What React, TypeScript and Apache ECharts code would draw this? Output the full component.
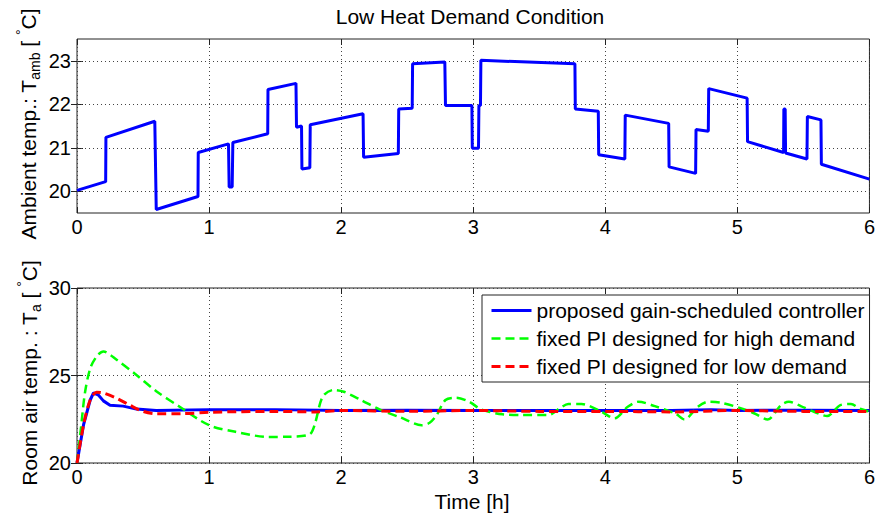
import React, { useEffect, useRef } from "react";
import * as echarts from "echarts";

const FONT = "'Liberation Sans', Arial, Helvetica, sans-serif";

const titleText = "Low Heat Demand Condition";
const xAxisTitle = "Time [h]";
const xTicks = [0, 1, 2, 3, 4, 5, 6];
const ambientYTicks = [20, 21, 22, 23];
const roomYTicks = [20, 25, 30];

const seriesNames = [
  "proposed gain-scheduled controller",
  "fixed PI designed for high demand",
  "fixed PI designed for low demand",
];

// Ambient temperature (top panel)
const ambientTime = [
  0, 0.217, 0.219, 0.589, 0.6, 0.916, 0.918, 1.147, 1.152, 1.175, 1.18, 1.444, 1.446,
  1.658, 1.662, 1.7, 1.703, 1.763, 1.766, 2.166, 2.17, 2.433, 2.436, 2.538, 2.541,
  2.785, 2.79, 2.99, 2.993, 3.04, 3.043, 3.055, 3.058, 3.77, 3.773, 3.947, 3.95,
  4.148, 4.151, 4.48, 4.483, 4.684, 4.687, 4.78, 4.783, 5.074, 5.077, 5.35, 5.352,
  5.362, 5.365, 5.527, 5.53, 5.633, 5.636, 6.0,
];
const ambientTemp = [
  20.02, 20.22, 21.24, 21.61, 19.58, 19.88, 20.89, 21.09, 20.1, 20.1, 21.12, 21.32, 22.34,
  22.48, 21.47, 21.5, 20.51, 20.54, 21.53, 21.78, 20.78, 20.87, 21.89, 21.91, 22.93,
  22.97, 21.97, 21.97, 20.99, 20.99, 21.97, 21.97, 23.01, 22.93, 21.89, 21.84, 20.84,
  20.74, 21.75, 21.56, 20.56, 20.41, 21.42, 21.38, 22.36, 22.14, 21.14, 20.89, 21.89,
  21.89, 20.88, 20.74, 21.72, 21.64, 20.62, 20.28,
];

// Room air temperature (bottom panel)
const gsTime = [0, 0.05, 0.1, 0.125, 0.16, 0.2, 0.25, 0.35, 0.45, 0.6, 1.0, 1.5, 2.0, 2.5, 3.0, 3.5, 4.0, 4.5, 4.8, 5.0, 5.5, 6.0];
const gsTemp = [20.0, 22.2, 23.6, 24.0, 23.9, 23.55, 23.3, 23.25, 23.08, 23.0, 23.05, 23.05, 23.0, 23.02, 23.0, 23.0, 23.0, 23.0, 23.05, 23.0, 23.02, 23.0];

const highTime = [
  0, 0.03, 0.06, 0.1, 0.15, 0.2, 0.3, 0.45, 0.6, 0.78, 1.0, 1.2, 1.45, 1.6, 1.76, 1.8,
  1.86, 1.94, 2.02, 2.15, 2.29, 2.45, 2.61, 2.67, 2.72, 2.79, 2.87, 2.97, 3.05, 3.12,
  3.22, 3.37, 3.57, 3.65, 3.72, 3.82, 3.97, 4.07, 4.17, 4.25, 4.375, 4.53, 4.6, 4.7,
  4.78, 4.88, 5.03, 5.13, 5.23, 5.33, 5.39, 5.48, 5.58, 5.68, 5.78, 5.86, 5.93, 6.0,
];
const highTemp = [
  20.0, 22.0, 24.0, 25.4, 26.1, 26.37, 25.9, 25.03, 24.1, 23.2, 22.16, 21.78, 21.49, 21.5, 21.63, 22.2,
  23.79, 24.17, 24.07, 23.6, 23.06, 22.6, 22.16, 22.3, 22.7, 23.6, 23.73, 23.5, 23.1, 22.93,
  22.78, 22.74, 22.74, 23.1, 23.37, 23.37, 22.93, 22.55, 23.21, 23.5, 23.25, 22.83, 22.49, 23.21,
  23.5, 23.44, 23.12, 22.83, 22.49, 23.31, 23.5, 23.25, 22.93, 22.68, 23.31, 23.37, 23.1, 22.93,
];

const lowTime = [0, 0.05, 0.1, 0.15, 0.2, 0.3, 0.4, 0.5, 0.6, 0.8, 1.0, 1.5, 1.8, 2.0, 2.5, 3.0, 3.5, 4.0, 4.5, 5.0, 5.5, 6.0];
const lowTemp = [20.0, 22.2, 23.6, 24.05, 24.0, 23.7, 23.3, 22.95, 22.82, 22.82, 22.9, 22.95, 22.92, 23.0, 22.95, 23.0, 22.95, 22.95, 22.92, 23.0, 22.95, 22.95];

const pairs = (t: number[], v: number[]) => t.map((x, i) => [x, v[i]]);

const AXIS_COLOR = "#222";
const gridLine = { color: "#444", type: [1, 3] as number[], width: 1 };
const tickStyle = { inside: true, length: 6, lineStyle: { color: AXIS_COLOR, width: 1 } };
const labelStyle = { fontSize: 20, color: "#000", fontFamily: FONT };
const hiddenSymbol = { color: "rgba(0,0,0,0)", borderColor: "rgba(0,0,0,0)", borderWidth: 0, opacity: 0 };

function makeX(gridIndex: number, position: "bottom" | "top", labels: boolean, split: boolean) {
  return {
    type: "value",
    gridIndex,
    position,
    min: xTicks[0],
    max: xTicks[xTicks.length - 1],
    interval: 1,
    axisLine: { show: false },
    axisTick: tickStyle,
    axisLabel: labels ? { ...labelStyle, margin: 4 } : { show: false },
    splitLine: { show: split, lineStyle: gridLine },
  };
}

const richLabel = {
  n: { fontSize: 21, lineHeight: 28, fontFamily: FONT, fill: "#000" },
  s: { fontSize: 14, lineHeight: 14, fontFamily: FONT, verticalAlign: "bottom", fill: "#000" },
  p: { fontSize: 14, lineHeight: 14, fontFamily: FONT, verticalAlign: "top", fill: "#000" },
};

export default function App() {
  const ref = useRef<HTMLDivElement>(null);
  useEffect(() => {
    if (!ref.current) return;
    const chart = echarts.init(ref.current, null, { renderer: "svg" });
    const option: any = {
      animation: false,
      backgroundColor: "#fff",
      textStyle: { fontFamily: FONT },
      grid: [
        { left: 77, top: 39, width: 795, height: 174, show: true, borderColor: AXIS_COLOR, borderWidth: 1, backgroundColor: "#fff" },
        { left: 77, top: 288, width: 795, height: 175, show: true, borderColor: AXIS_COLOR, borderWidth: 1, backgroundColor: "#fff" },
      ],
      xAxis: [
        makeX(0, "bottom", true, true),
        makeX(0, "top", false, false),
        makeX(1, "bottom", true, true),
        makeX(1, "top", false, false),
      ],
      yAxis: [
        {
          type: "value", gridIndex: 0, position: "left", min: 19.5, max: 23.5,
          axisLine: { show: false },
          axisTick: { ...tickStyle, customValues: ambientYTicks },
          axisLabel: { ...labelStyle, margin: 6, customValues: ambientYTicks },
          splitLine: { show: false },
        },
        {
          type: "value", gridIndex: 0, position: "right", min: 19.5, max: 23.5,
          axisLine: { show: false },
          axisTick: { ...tickStyle, customValues: ambientYTicks },
          axisLabel: { show: false },
          splitLine: { show: false },
        },
        {
          type: "value", gridIndex: 1, position: "left", min: roomYTicks[0], max: roomYTicks[2], interval: 5,
          axisLine: { show: false },
          axisTick: tickStyle,
          axisLabel: { ...labelStyle, margin: 6 },
          splitLine: { show: true, lineStyle: gridLine },
        },
        {
          type: "value", gridIndex: 1, position: "right", min: roomYTicks[0], max: roomYTicks[2], interval: 5,
          axisLine: { show: false },
          axisTick: tickStyle,
          axisLabel: { show: false },
          splitLine: { show: false },
        },
      ],
      legend: {
        orient: "vertical",
        left: 482,
        top: 295,
        backgroundColor: "#fff",
        borderColor: AXIS_COLOR,
        borderWidth: 1,
        borderRadius: 0,
        padding: [5, 5, 5, 8],
        itemWidth: 40,
        itemHeight: 20,
        itemGap: 7,
        textStyle: { fontSize: 21, color: "#000", fontFamily: FONT },
        data: [
          { name: seriesNames[0], lineStyle: { width: 3 }, itemStyle: hiddenSymbol },
          { name: seriesNames[1], lineStyle: { width: 2.5 }, itemStyle: hiddenSymbol },
          { name: seriesNames[2], lineStyle: { width: 3 }, itemStyle: hiddenSymbol },
        ],
      },
      graphic: [
        {
          type: "text", x: 470, y: 16,
          style: { text: titleText, fontSize: 21, fill: "#000", fontFamily: FONT, align: "center", verticalAlign: "middle" },
        },
        {
          type: "text", x: 472, y: 501,
          style: { text: xAxisTitle, fontSize: 21, fill: "#000", fontFamily: FONT, align: "center", verticalAlign: "middle" },
        },
        {
          type: "text", x: 28, y: 124, rotation: Math.PI / 2,
          style: {
            text: "{n|Ambient temp.: T}{s|amb}{n| [ }{p|°}{n|C]}",
            align: "center", verticalAlign: "middle", fill: "#000",
            rich: richLabel,
          },
        },
        {
          type: "text", x: 29, y: 373, rotation: Math.PI / 2,
          style: {
            text: "{n|Room air temp. : T}{s|a}{n| [ }{p|°}{n|C]}",
            align: "center", verticalAlign: "middle", fill: "#000",
            rich: richLabel,
          },
        },
      ],
      series: [
        {
          name: "Ambient temperature",
          type: "line",
          xAxisIndex: 0,
          yAxisIndex: 0,
          data: pairs(ambientTime, ambientTemp),
          symbol: "none",
          showSymbol: false,
          lineStyle: { color: "#0000ff", width: 3 },
          itemStyle: { color: "#0000ff" },
          z: 3,
          markLine: {
            silent: true,
            symbol: ["none", "none"],
            label: { show: false },
            lineStyle: gridLine,
            z: 1,
            data: ambientYTicks.map((v) => ({ yAxis: v })),
          },
        },
        {
          name: seriesNames[0],
          type: "line",
          xAxisIndex: 2,
          yAxisIndex: 2,
          data: pairs(gsTime, gsTemp),
          symbol: "none",
          showSymbol: false,
          lineStyle: { color: "#0000ff", width: 3 },
          itemStyle: { color: "#0000ff" },
          z: 3,
        },
        {
          name: seriesNames[1],
          type: "line",
          xAxisIndex: 2,
          yAxisIndex: 2,
          data: pairs(highTime, highTemp),
          symbol: "none",
          showSymbol: false,
          smooth: 0.3,
          lineStyle: { color: "#00ff00", width: 2.5, type: [9, 5] },
          itemStyle: { color: "#00ff00" },
          z: 4,
        },
        {
          name: seriesNames[2],
          type: "line",
          xAxisIndex: 2,
          yAxisIndex: 2,
          data: pairs(lowTime, lowTemp),
          symbol: "none",
          showSymbol: false,
          smooth: 0.3,
          lineStyle: { color: "#ff0000", width: 3, type: [9, 5] },
          itemStyle: { color: "#ff0000" },
          z: 5,
        },
      ],
    };
    chart.setOption(option);
    return () => chart.dispose();
  }, []);
  return (
    <div
      ref={ref}
      style={{ position: "fixed", left: 0, top: 0, width: 878, height: 517, background: "#fff" }}
    />
  );
}
